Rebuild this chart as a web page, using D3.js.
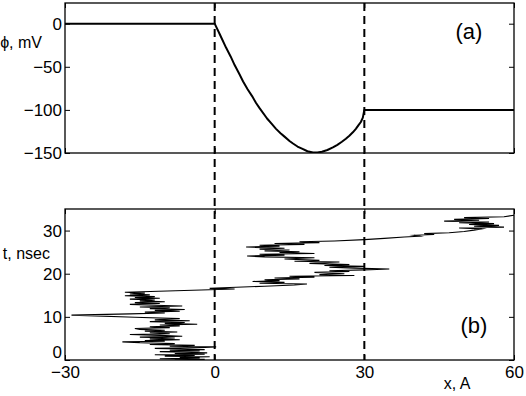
<!DOCTYPE html>
<html><head><meta charset="utf-8">
<script src="https://cdn.jsdelivr.net/npm/d3@7"></script>
<style>
html,body{margin:0;padding:0;background:#fff;}
svg text{font-family:"Liberation Sans",Arial,Helvetica,sans-serif;fill:#000;}
</style></head>
<body><svg id="c" width="526" height="396"></svg>
<script>
// ---- data ----
const xTicks = [-30, 0, 30, 60];
const phiTicks = [0, -50, -100, -150];
const tTicks = [0, 10, 20, 30];
const barriers = [0, 30];
// potential profile (x in A, phi in mV)
const potX   = [-30, 0, 1, 2.3, 3.2, 4, 5, 5.7, 6.6, 7.5, 8.3, 9, 10.5, 11.4, 12.3, 13.2, 14, 15, 15.7, 16.6, 17.5, 18.6, 19.7, 20.6, 21.5, 22.6, 23.7, 24.6, 25.5, 26.3, 27, 27.7, 28.3, 28.8, 29.3, 29.7, 30, 60];
const potPhi = [0, 0, -12, -28, -38, -48, -59, -67, -76, -84, -92, -98, -110, -116, -122, -127, -131, -136, -139, -142.5, -145, -148, -149.5, -149.5, -148.5, -146.5, -143.5, -140.5, -137, -133.5, -130, -126, -122, -118, -114, -109, -100, -100];
// trajectory (time in nsec, position in A)
const trajT = [0.0,0.15,0.3,0.45,0.6,0.75,0.9,1.05,1.2,1.35,1.5,1.65,1.8,1.95,2.1,2.25,2.4,2.55,2.7,2.9,3.05,3.2,3.4,3.6,3.8,4.0,4.2,4.35,4.5,4.7,4.9,5.1,5.3,5.5,5.7,5.9,6.1,6.3,6.5,6.7,6.9,7.1,7.3,7.5,7.7,7.9,8.1,8.3,8.5,8.7,8.9,9.1,9.3,9.6,9.9,10.4,10.7,10.9,11.1,11.3,11.5,11.7,11.9,12.1,12.3,12.5,12.7,12.9,13.1,13.3,13.5,13.7,13.9,14.1,14.3,14.5,14.7,14.9,15.1,15.3,15.5,15.7,16.3,16.45,16.6,16.8,17.1,17.4,17.6,17.8,18.0,18.2,18.4,18.6,18.8,19.0,19.2,19.4,19.6,19.8,20.0,20.3,20.5,20.7,20.9,21.1,21.3,21.5,21.7,21.9,22.1,22.4,22.7,22.9,23.1,23.4,23.7,23.9,24.1,24.3,24.5,24.7,24.9,25.1,25.3,25.5,25.7,25.9,26.1,26.2,26.4,26.6,26.8,27.0,27.2,27.4,27.6,27.9,28.2,28.5,28.7,28.9,29.1,29.3,29.5,29.8,30.1,30.4,30.6,30.8,31.0,31.2,31.4,31.6,31.8,32.0,32.2,32.4,32.6,32.8,33.0,33.2,33.6];
const trajX = [-8,-2,-11,-3,-7,-1,-10,-4,-12,-2,-8,-1.5,-6,-11,-3,-9,-2,-7,-12,-2,0.3,-9,-4,-13,-8,-15,-18.5,-10,-14,-7,-13,-8,-15,-6.5,-11,-17,-9,-13,-7.5,-14,-10,-15,-16,-9,-13,-7,-11,-3.5,-10,-6,-13,-5,-12,-7,-16,-28.7,-17,-10,-14,-7,-12,-6,-13,-9,-15,-6.5,-12,-17,-11,-16,-10,-15,-12,-17,-11,-16,-12,-18,-13,-17,-14,-18,-1,4,-1,3,10,16,18.5,9,14,7.6,13,10,17,12,20,15,28,21,26,20,27,23,30,35,28,23,30,22,27,19,25,16,21,14,20,10,6.5,14,9,20,13,17,10,15,9,14,8,6.3,13,9,18,12,21,17,24,30,34,38,41,40,44,42,47,50,52,53.5,49,58,52,57,51,56,49,55,46,53,48,55,50,58,60.3];

// ---- layout ----
const svg = d3.select("#c");
const L = 65, R = 514;
const top1 = 3, bot1 = 153, top2 = 209, bot2 = 360;
const x = d3.scaleLinear().domain([-30, 60]).range([L, R]);
const y1 = d3.scaleLinear().domain([-150, 24]).range([bot1, top1]);
const y2 = d3.scaleLinear().domain([0, 35]).range([bot2, top2]);
const FS = 17;

svg.append("rect").attr("width",526).attr("height",396).attr("fill","#fff");

function panel(ys, yt, top, bot, showX) {
  const g = svg.append("g");
  const la = d3.axisLeft(ys).tickValues(yt).tickSizeInner(-5).tickSizeOuter(0).tickPadding(3);
  const gl = g.append("g").attr("class","yl").attr("transform",`translate(${L},0)`).call(la);
  gl.select(".domain").remove();
  gl.selectAll("text").style("font-size",FS+"px");
  const ra = d3.axisRight(ys).tickValues(yt).tickSizeInner(-5).tickSizeOuter(0).tickFormat("");
  const gr = g.append("g").attr("transform",`translate(${R},0)`).call(ra);
  gr.select(".domain").remove();
  const ba = d3.axisBottom(x).tickValues(xTicks).tickSizeInner(-5).tickSizeOuter(0).tickPadding(6);
  if (!showX) ba.tickFormat("");
  const gb = g.append("g").attr("transform",`translate(0,${bot})`).call(ba);
  gb.select(".domain").remove();
  gb.selectAll("text").style("font-size",FS+"px");
  const ta = d3.axisTop(x).tickValues(xTicks).tickSizeInner(-5).tickSizeOuter(0).tickFormat("");
  const gt = g.append("g").attr("transform",`translate(0,${top})`).call(ta);
  gt.select(".domain").remove();
  g.selectAll(".tick line").attr("stroke","#000").attr("stroke-width",1);
  return g;
}
panel(y1, phiTicks, top1, bot1, false);
const p2 = panel(y2, tTicks, top2, bot2, true);
// nudge the t = 0 label up so it clears the x-axis labels
p2.select(".yl").selectAll(".tick").filter(d=>d===0).select("text").attr("y",-8);

const defs = svg.append("defs");
defs.append("clipPath").attr("id","cp1").append("rect").attr("x",L).attr("y",top1).attr("width",R-L).attr("height",bot1-top1);
defs.append("clipPath").attr("id","cp2").append("rect").attr("x",L).attr("y",top2).attr("width",R-L).attr("height",bot2-top2);

const pot = potX.map((v,i)=>[v, potPhi[i]]);
svg.append("path").attr("clip-path","url(#cp1)")
  .attr("d", d3.line().x(d=>x(d[0])).y(d=>y1(d[1]))(pot))
  .attr("fill","none").attr("stroke","#000").attr("stroke-width",2).attr("stroke-linejoin","round");

const traj = trajT.map((t,i)=>[trajX[i], t]);
svg.append("path").attr("clip-path","url(#cp2)")
  .attr("d", d3.line().x(d=>x(d[0])).y(d=>y2(d[1]))(traj))
  .attr("fill","none").attr("stroke","#000").attr("stroke-width",1.1).attr("stroke-linejoin","miter").attr("stroke-miterlimit",10);

svg.selectAll("line.bar").data(barriers).enter().append("line")
  .attr("x1",d=>x(d)).attr("x2",d=>x(d)).attr("y1",top1).attr("y2",bot2)
  .attr("stroke","#000").attr("stroke-width",2).attr("stroke-dasharray","8,5");

[[top1,bot1],[top2,bot2]].forEach(([a,b])=>{
  svg.append("rect").attr("x",L).attr("y",a).attr("width",R-L).attr("height",b-a)
    .attr("fill","none").attr("stroke","#000").attr("stroke-width",1.3);
});

svg.append("text").attr("x",42).attr("y",48).attr("text-anchor","end").style("font-size","16px").text("ϕ, mV");
svg.append("text").attr("x",50).attr("y",259).attr("text-anchor","end").style("font-size","16px").text("t, nsec");
svg.append("text").attr("x",457).attr("y",389).attr("text-anchor","middle").style("font-size","16px").text("x, A");
svg.append("text").attr("x",469).attr("y",39).attr("text-anchor","middle").style("font-size","22px").text("(a)");
svg.append("text").attr("x",474).attr("y",333).attr("text-anchor","middle").style("font-size","22px").text("(b)");
</script></body></html>
